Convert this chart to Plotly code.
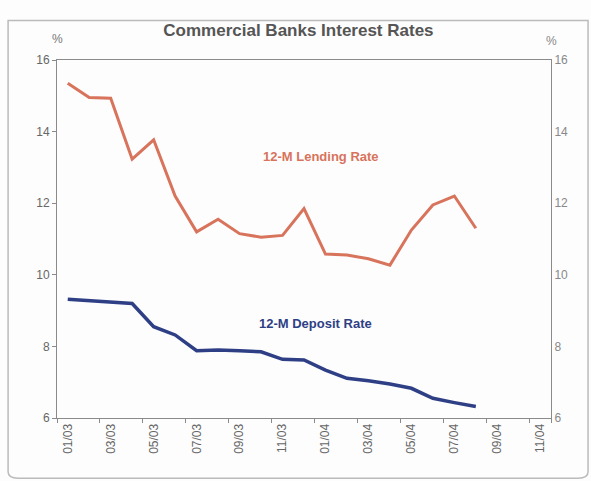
import plotly.graph_objects as go

months = ["01/03", "02/03", "03/03", "04/03", "05/03", "06/03", "07/03", "08/03",
          "09/03", "10/03", "11/03", "12/03", "01/04", "02/04", "03/04", "04/04",
          "05/04", "06/04", "07/04", "08/04", "09/04", "10/04", "11/04"]
lending = [15.35, 14.95, 14.93, 13.23, 13.77, 12.2, 11.2, 11.55, 11.15, 11.05,
           11.1, 11.85, 10.58, 10.55, 10.45, 10.27, 11.25, 11.95, 12.2, 11.3]
deposit = [9.32, 9.28, 9.26, 9.2, 8.55, 8.32, 7.88, 7.9, 7.88, 7.85,
           7.64, 7.62, 7.34, 7.11, 7.04, 6.95, 6.83, 6.55, 6.43, 6.32]
y_ticks = [6, 8, 10, 12, 14, 16]

LEND_C = "#d8735c"
DEP_C = "#2e3f85"
AX_C = "#8a8a8a"
FONT = "Liberation Sans, Arial, sans-serif"

fig = go.Figure()
fig.add_trace(go.Scatter(x=months[:len(lending)], y=lending, mode="lines",
                         line=dict(color=LEND_C, width=3), showlegend=False))
fig.add_trace(go.Scatter(x=months[:len(deposit)], y=deposit, mode="lines",
                         line=dict(color=DEP_C, width=3.5), showlegend=False))
# invisible trace to activate right axis
fig.add_trace(go.Scatter(x=months[:1], y=[None], yaxis="y2", showlegend=False,
                         hoverinfo="skip"))

fig.update_layout(
    width=591, height=481,
    margin=dict(l=57, r=40, t=60, b=63),
    paper_bgcolor="#fdfdfd", plot_bgcolor="#fdfdfd",
    font=dict(family=FONT, color="#666666", size=12),
    title=dict(text="<b>Commercial Banks Interest Rates</b>", x=0.505, xanchor="center",
               y=0.938, yanchor="middle",
               font=dict(size=17, color="#555555", family=FONT)),
    xaxis=dict(type="category", categoryorder="array", categoryarray=months,
               range=[-0.5, len(months) - 0.5],
               tickmode="array", tickvals=months[::2], ticktext=months[::2],
               tickson="boundaries", ticks="outside", ticklen=4, tickcolor=AX_C,
               tickangle=-90, tickfont=dict(size=12, color="#666666"),
               showline=True, linecolor=AX_C, linewidth=1, mirror=True,
               showgrid=False, zeroline=False),
    yaxis=dict(range=[6, 16], tickvals=y_ticks, ticks="outside", ticklen=4,
               tickcolor=AX_C, showline=True, linecolor=AX_C, linewidth=1,
               showgrid=False, zeroline=False, tickfont=dict(size=12, color="#666666")),
    yaxis2=dict(range=[6, 16], tickvals=y_ticks, overlaying="y", side="right",
                ticks="", showline=True, linecolor=AX_C, linewidth=1,
                showgrid=False, zeroline=False,
                tickfont=dict(size=12, color="#888888")),
)

fig.add_annotation(x=0.0, y=1.0, xref="paper", yref="paper", text="%",
                   showarrow=False, xanchor="center", yanchor="bottom", yshift=12,
                   font=dict(size=12, color="#777777"))
fig.add_annotation(x=1.0, y=1.0, xref="paper", yref="paper", text="%",
                   showarrow=False, xanchor="center", yanchor="bottom", yshift=10,
                   font=dict(size=12, color="#888888"))
fig.add_annotation(x=months[12], y=13.3, text="<b>12-M Lending Rate</b>",
                   showarrow=False, xanchor="center", xshift=-4,
                   font=dict(size=13, color=LEND_C, family=FONT))
fig.add_annotation(x=months[12], y=8.65, text="<b>12-M Deposit Rate</b>",
                   showarrow=False, xanchor="center", xshift=-10,
                   font=dict(size=13, color=DEP_C, family=FONT))

# rounded outer frame
fig.add_shape(type="path", xref="paper", yref="paper", layer="below",
              path="M -0.099 1.11 L 1.075 1.11 L 1.075 -0.15 Q 1.075 -0.168 1.055 -0.168 "
                   "L -0.079 -0.168 Q -0.099 -0.168 -0.099 -0.15 Z",
              line=dict(color="#bbbbbb", width=1.5))

fig.write_html("out.html", config={"displayModeBar": False},
               post_script="document.body.style.margin='0';")
